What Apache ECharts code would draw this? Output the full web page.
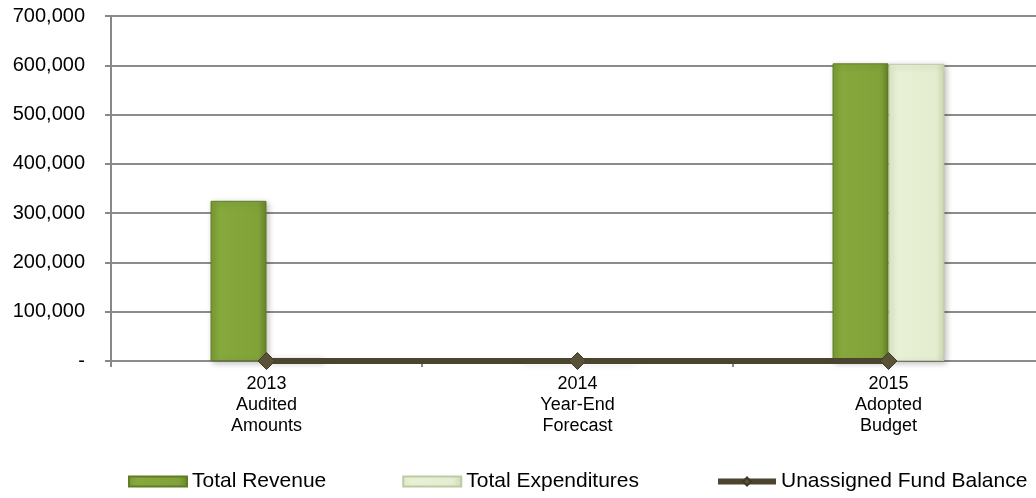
<!DOCTYPE html>
<html>
<head>
<meta charset="utf-8">
<script src="https://cdn.jsdelivr.net/npm/echarts@6/dist/echarts.min.js"></script>
<style>html,body{margin:0;padding:0;background:#fff;overflow:hidden;width:1036px;height:498px;}#c{width:1044px;height:498px;}</style>
</head>
<body>
<div id="c"></div>
<script>
const categories = ['2013\nAudited\nAmounts', '2014\nYear-End\nForecast', '2015\nAdopted\nBudget'];
const totalRevenue = [325000, 0, 604000];
const totalExpenditures = [6000, 0, 603000];
const unassignedFundBalance = [0, 0, 0];
const yTicks = { min: 0, max: 700000, interval: 100000 };

const chart = echarts.init(document.getElementById('c'), null, { renderer: 'canvas' });
const font = 'Liberation Sans, Arial, sans-serif';
const revColor = new echarts.graphic.LinearGradient(0, 0, 1, 0, [
  { offset: 0, color: '#7a9b34' }, { offset: 0.15, color: '#86a83c' },
  { offset: 0.85, color: '#80a238' }, { offset: 1, color: '#67862a' }]);
const expColor = new echarts.graphic.LinearGradient(0, 0, 1, 0, [
  { offset: 0, color: '#dfe9c6' }, { offset: 0.15, color: '#e8f0d6' },
  { offset: 0.85, color: '#e4edcf' }, { offset: 1, color: '#cdd8b2' }]);

chart.setOption({
  animation: false,
  grid: { left: 111, top: 16, right: 0, height: 345, containLabel: false },
  legend: {
    top: 466, left: 123, width: 1000, itemGap: 76, itemWidth: 58, itemHeight: 10,
    textStyle: { fontFamily: font, fontSize: 21, color: '#000' },
    data: [
      { name: 'Total Revenue', icon: 'rect' },
      { name: 'Total Expenditures', icon: 'rect' },
      { name: 'Unassigned Fund Balance', lineStyle: { width: 6, color: '#4b4530' } }
    ]
  },
  xAxis: {
    type: 'category', data: categories,
    axisLine: { show: false },
    axisTick: { show: true, alignWithLabel: false, length: 6, lineStyle: { color: '#888', width: 2 } },
    axisLabel: { fontFamily: font, fontSize: 18, color: '#000', lineHeight: 21, margin: 13 }
  },
  yAxis: {
    type: 'value', min: yTicks.min, max: yTicks.max, interval: yTicks.interval,
    axisLine: { show: true, lineStyle: { color: '#888', width: 2 } },
    axisTick: { show: true, length: 6, lineStyle: { color: '#888', width: 2 } },
    splitLine: { show: true, lineStyle: { color: '#8c8c8c', width: 2 } },
    axisLabel: {
      fontFamily: font, fontSize: 20, color: '#000', margin: 26,
      formatter: v => v === 0 ? '-' : v.toLocaleString('en-US')
    }
  },
  series: [
    {
      name: 'Total Revenue', type: 'bar', data: totalRevenue,
      barGap: '0%', barCategoryGap: '64%',
      itemStyle: { color: revColor, borderColor: '#5f7d25', borderWidth: 1,
        shadowBlur: 6, shadowColor: 'rgba(0,0,0,0.25)', shadowOffsetX: 2, shadowOffsetY: 2 }
    },
    {
      name: 'Total Expenditures', type: 'bar', data: totalExpenditures,
      itemStyle: { color: expColor, borderColor: '#bfcaa4', borderWidth: 1,
        shadowBlur: 6, shadowColor: 'rgba(0,0,0,0.25)', shadowOffsetX: 2, shadowOffsetY: 2 }
    },
    {
      name: 'Unassigned Fund Balance', type: 'line', data: unassignedFundBalance,
      symbol: 'diamond', symbolSize: 17, showAllSymbol: true,
      lineStyle: { color: '#4b4530', width: 6 },
      itemStyle: { color: '#5a5238', borderColor: '#3e3a26', borderWidth: 1 },
      z: 5
    }
  ]
});
</script>
</body>
</html>
